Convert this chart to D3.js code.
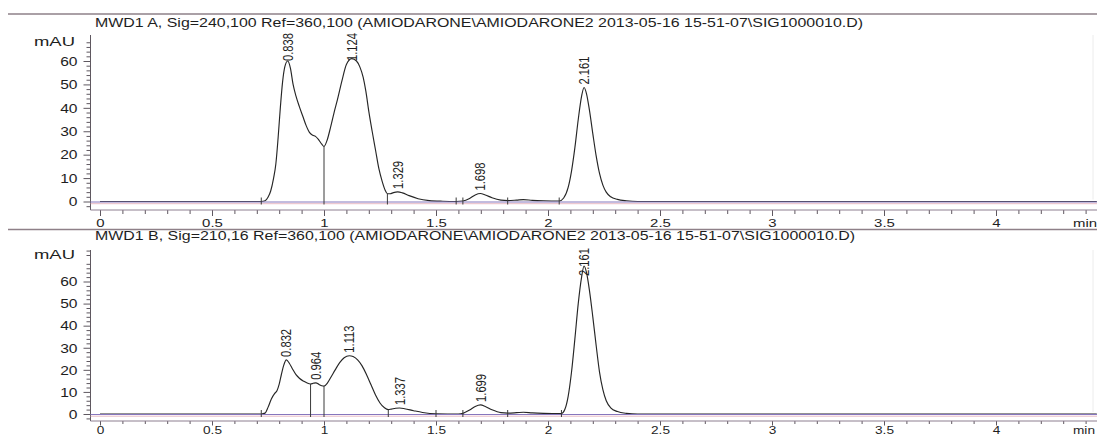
<!DOCTYPE html>
<html>
<head>
<meta charset="utf-8">
<script src="https://cdn.jsdelivr.net/npm/d3@7"></script>
<style>
  html, body { margin: 0; padding: 0; background: #fff; overflow: hidden; }
  svg { display: block; }
</style>
</head>
<body>
<svg id="chart" width="1097" height="437"></svg>
<script>
// Retention-time ticks (min) and detector ticks (mAU)
const timeTicks = [0, 0.5, 1, 1.5, 2, 2.5, 3, 3.5, 4];
const mauTicks = [0, 10, 20, 30, 40, 50, 60];

const titleA = "MWD1 A, Sig=240,100 Ref=360,100 (AMIODARONE\\AMIODARONE2 2013-05-16 15-51-07\\SIG1000010.D)";
const titleB = "MWD1 B, Sig=210,16 Ref=360,100 (AMIODARONE\\AMIODARONE2 2013-05-16 15-51-07\\SIG1000010.D)";

// Signal A (240 nm): [time min, absorbance mAU]
const traceA = [
  [0, 0], [0.70, 0], [0.72, 0], [0.737, 0.3], [0.75, 1.8], [0.762, 4.5], [0.775, 10], [0.785, 16],
  [0.795, 27], [0.805, 40], [0.815, 51], [0.825, 57.5], [0.838, 60], [0.85, 57], [0.862, 50],
  [0.875, 45], [0.89, 40.5], [0.905, 36.5], [0.92, 32.5], [0.935, 29.5], [0.95, 28.3], [0.962, 27.8],
  [0.975, 26.5], [0.99, 24.5], [1.0, 23.5], [1.015, 26.5], [1.03, 32], [1.045, 38], [1.06, 43.5],
  [1.08, 51.5], [1.10, 58.5], [1.124, 61], [1.145, 60], [1.16, 57.5], [1.175, 53], [1.187, 47],
  [1.20, 38.5], [1.215, 30], [1.23, 22], [1.245, 14], [1.26, 8.5], [1.273, 4.8], [1.283, 3.3],
  [1.295, 3.3], [1.31, 3.8], [1.329, 4.1], [1.35, 3.7], [1.38, 2.5], [1.42, 1.2], [1.47, 0.4],
  [1.53, 0.1], [1.59, 0], [1.62, 0.2], [1.65, 1.3], [1.675, 2.8], [1.698, 3.4], [1.72, 2.8],
  [1.75, 1.6], [1.79, 0.6], [1.82, 0.4], [1.86, 0.6], [1.89, 0.8], [1.93, 0.5], [1.98, 0.3],
  [2.05, 0.2], [2.07, 1.5], [2.09, 6], [2.105, 13], [2.12, 23], [2.135, 35], [2.15, 45],
  [2.161, 48.7], [2.172, 46], [2.185, 39], [2.20, 29], [2.215, 19.5], [2.23, 12], [2.245, 7],
  [2.26, 4], [2.28, 2], [2.31, 0.9], [2.35, 0.3], [2.40, 0], [4.45, 0]
];
const peaksA = [0.838, 1.124, 1.329, 1.698, 2.161];
const eventsA = [0.72, 1.0, 1.283, 1.59, 1.62, 1.82, 2.05];

// Signal B (210 nm): [time min, absorbance mAU]
const traceB = [
  [0, 0], [0.70, 0], [0.72, 0], [0.737, 0.4], [0.75, 3], [0.765, 6.8], [0.78, 9.3], [0.79, 10.5],
  [0.80, 13.5], [0.81, 18], [0.82, 22], [0.832, 24.5], [0.845, 23], [0.86, 20.3], [0.875, 17.8],
  [0.89, 16.2], [0.91, 14.8], [0.925, 14], [0.94, 13.6], [0.952, 13.9], [0.964, 14.1], [0.978, 13.4],
  [0.99, 12.8], [1.0, 12.6], [1.015, 14], [1.03, 16.5], [1.05, 20], [1.07, 23.3], [1.09, 25.5],
  [1.113, 26.4], [1.13, 26], [1.15, 24.5], [1.17, 21.8], [1.19, 17.8], [1.21, 13.2], [1.23, 8.6],
  [1.25, 5], [1.27, 2.8], [1.287, 2], [1.30, 2.2], [1.32, 2.6], [1.337, 2.7], [1.36, 2.4],
  [1.40, 1.5], [1.44, 0.7], [1.50, 0.1], [1.60, 0], [1.62, 0.3], [1.65, 1.8], [1.675, 3.4],
  [1.699, 4.1], [1.72, 3.4], [1.75, 1.9], [1.79, 0.6], [1.82, 0.4], [1.86, 0.6], [1.89, 0.8],
  [1.93, 0.5], [1.98, 0.3], [2.06, 0.2], [2.075, 2], [2.09, 8], [2.105, 19], [2.12, 34],
  [2.135, 50], [2.15, 62], [2.161, 67], [2.172, 64], [2.185, 56], [2.20, 44], [2.215, 31],
  [2.23, 19], [2.245, 11], [2.26, 6], [2.28, 2.8], [2.31, 1.1], [2.35, 0.3], [2.40, 0], [4.45, 0]
];
const peaksB = [0.832, 0.964, 1.113, 1.337, 1.699, 2.161];
const eventsB = [0.72, 0.94, 1.0, 1.287, 1.50, 1.62, 1.82, 2.06];

// ---- layout ----
const W = 1097;
const STRETCH = 1.3;               // horizontal glyph stretch of the printout
const FONT = "'Liberation Sans', Arial, sans-serif";
const svg = d3.select("#chart");

const x = d3.scaleLinear().domain([0, 4.45]).range([100, 100 + 4.45 * 224]);

const panels = [
  { title: titleA, titleLen: 768, trace: traceA, peaks: peaksA, events: eventsA,
    sepY: 14, titleY: 27.3, mauY: 42, yAxisTop: 35, y0: 201.5, y60: 61,
    axisY: 210, majorTick: 6, minorTick: 4, labelBase: 226.8, labelSize: 11.5, labelTop: 33 },
  { title: titleB, titleLen: 760, trace: traceB, peaks: peaksB, events: eventsB,
    sepY: 229.5, titleY: 239.6, mauY: 255, yAxisTop: 250, y0: 414, y60: 281.5,
    axisY: 421, majorTick: 4.5, minorTick: 3, labelBase: 434, labelSize: 10.5, labelTop: 248 }
];

const axisColor = "#5f5860";
const inkColor = "#1e1e1e";

function nearestValue(trace, t) {
  let best = trace[0];
  for (const p of trace) if (Math.abs(p[0] - t) < Math.abs(best[0] - t)) best = p;
  return best[1];
}

panels.forEach(p => {
  const g = svg.append("g");
  const y = d3.scaleLinear().domain([0, 60]).range([p.y0, p.y60]);
  const axisX = 90.5;

  // separator rule above the panel
  g.append("line")
    .attr("x1", 8).attr("x2", W).attr("y1", p.sepY).attr("y2", p.sepY)
    .attr("stroke", "#8e8088").attr("stroke-width", 1.4);

  // signal title
  g.append("text")
    .attr("x", 95).attr("y", p.titleY)
    .attr("textLength", p.titleLen).attr("lengthAdjust", "spacingAndGlyphs")
    .attr("font-family", FONT).attr("font-size", 12.8).attr("fill", inkColor)
    .text(p.title);

  // unit label
  g.append("text")
    .attr("x", 34).attr("y", p.mauY).attr("dominant-baseline", "central")
    .attr("textLength", 41).attr("lengthAdjust", "spacingAndGlyphs")
    .attr("font-family", FONT).attr("font-size", 12.5).attr("fill", inkColor)
    .text("mAU");

  // ---- y axis ----
  const yTopVal = y.invert(p.yAxisTop);
  const minorY = d3.range(-2, yTopVal, 2).filter(v => v % 10 !== 0);
  const yMinor = g.append("g").attr("transform", `translate(${axisX},0)`)
    .call(d3.axisLeft(y).tickValues(minorY).tickSize(4).tickFormat(""));
  const yMajor = g.append("g").attr("transform", `translate(${axisX},0)`)
    .call(d3.axisLeft(y).tickValues(mauTicks).tickSize(7).tickFormat(d => String(d)));
  [yMinor, yMajor].forEach(a => {
    a.select(".domain").remove();
    a.selectAll("line").attr("stroke", axisColor);
  });
  yMajor.selectAll("text")
    .attr("x", 0).attr("dy", null).attr("dominant-baseline", "central")
    .attr("transform", `translate(-13,0) scale(${STRETCH},1)`)
    .attr("font-family", FONT).attr("font-size", 12).attr("fill", inkColor);
  g.append("line")
    .attr("x1", axisX).attr("x2", axisX).attr("y1", p.yAxisTop).attr("y2", p.axisY)
    .attr("stroke", axisColor).attr("stroke-width", 1);

  // ---- x axis ----
  const minorX = d3.range(0, 4.45, 0.1).map(v => +v.toFixed(1)).filter(v => Math.abs(v * 2 - Math.round(v * 2)) > 1e-6);
  const xMinor = g.append("g").attr("transform", `translate(0,${p.axisY})`)
    .call(d3.axisBottom(x).tickValues(minorX).tickSize(p.minorTick).tickFormat(""));
  const xMajor = g.append("g").attr("transform", `translate(0,${p.axisY})`)
    .call(d3.axisBottom(x).tickValues(timeTicks).tickSize(p.majorTick).tickFormat(d => String(d)));
  [xMinor, xMajor].forEach(a => {
    a.select(".domain").remove();
    a.selectAll("line").attr("stroke", axisColor);
  });
  xMajor.selectAll("text")
    .attr("y", p.labelBase - p.axisY).attr("dy", null).attr("x", 0)
    .attr("transform", `scale(${STRETCH},1)`)
    .attr("font-family", FONT).attr("font-size", p.labelSize).attr("fill", inkColor);
  g.append("line")
    .attr("x1", axisX).attr("x2", W).attr("y1", p.axisY).attr("y2", p.axisY)
    .attr("stroke", "#8d7f90").attr("stroke-width", 1);
  g.append("text")
    .attr("transform", `translate(1073,${p.labelBase}) scale(${STRETCH},1)`)
    .attr("font-family", FONT).attr("font-size", p.labelSize).attr("fill", inkColor)
    .text("min");

  // faint right frame edge
  g.append("line")
    .attr("x1", 1093).attr("x2", 1093).attr("y1", p.yAxisTop).attr("y2", p.y0 - 2)
    .attr("stroke", "#ececec").attr("stroke-width", 1);

  // ---- chromatogram trace ----
  const line = d3.line().x(d => x(d[0])).y(d => y(d[1])).curve(d3.curveMonotoneX);
  g.append("path").datum(p.trace)
    .attr("d", line).attr("fill", "none")
    .attr("stroke", "#262626").attr("stroke-width", 1.15);

  // zero baseline
  g.append("line")
    .attr("x1", axisX).attr("x2", W).attr("y1", y(0) + 0.5).attr("y2", y(0) + 0.5)
    .attr("stroke", "#8676bd").attr("stroke-width", 1);
  g.append("line")
    .attr("x1", axisX).attr("x2", W).attr("y1", y(0) + 2.2).attr("y2", y(0) + 2.2)
    .attr("stroke", "#e2a9b6").attr("stroke-width", 0.8);

  // integration event marks / drop lines
  g.selectAll(".evt").data(p.events).join("line")
    .attr("class", "evt")
    .attr("x1", d => x(d)).attr("x2", d => x(d))
    .attr("y1", d => Math.min(y(nearestValue(p.trace, d)), y(0) - 4))
    .attr("y2", y(0) + 3)
    .attr("stroke", "#3a3a3a").attr("stroke-width", 1);

  // retention-time labels above each peak
  p.peaks.forEach(rt => {
    const apex = d3.max(p.trace.filter(d => Math.abs(d[0] - rt) <= 0.015), d => d[1]);
    const t = g.append("text")
      .attr("font-family", FONT).attr("font-size", 11.2).attr("fill", inkColor)
      .attr("text-anchor", "start").attr("dominant-baseline", "central")
      .text(rt.toFixed(3));
    const len = t.node().getComputedTextLength();
    const yStart = Math.max(y(apex) - 3, p.labelTop + len);
    t.attr("transform", `translate(${x(rt)},${yStart}) scale(${STRETCH},1) rotate(-90)`);
  });
});
</script>
</body>
</html>
